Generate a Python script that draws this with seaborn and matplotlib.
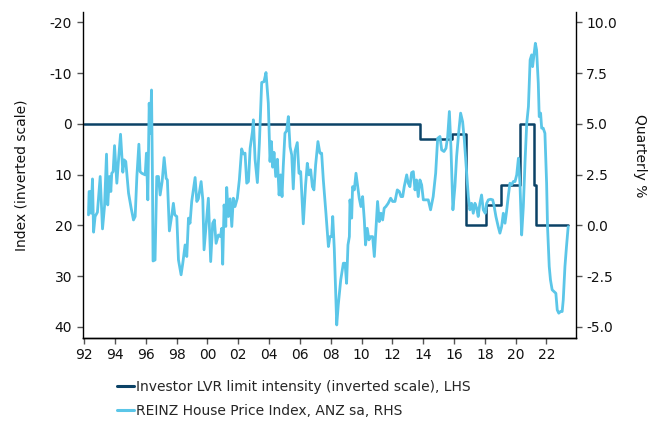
import matplotlib
matplotlib.use("Agg")
import matplotlib.pyplot as plt
import seaborn as sns
import pandas as pd
from matplotlib.ticker import FixedLocator, FuncFormatter

# ---------------- data ----------------
lvr_year = [1992.0, 2013.79, 2015.89, 2016.80, 2018.05, 2019.04, 2020.27, 2021.19, 2021.34, 2023.41]
lvr_value = [0, 3, 2, 20, 16, 12, 0, 12, 20, 20]

hpi_year = [
    1992.28, 1992.32, 1992.43, 1992.45, 1992.54, 1992.61, 1992.71, 1992.86, 1993.04, 1993.19,
    1993.32, 1993.45, 1993.53, 1993.64, 1993.73, 1993.79, 1993.88, 1993.97, 1994.12, 1994.23,
    1994.36, 1994.51, 1994.59, 1994.70, 1994.88, 1995.05, 1995.20, 1995.31, 1995.42, 1995.55,
    1995.63, 1995.74, 1995.96, 1996.04, 1996.13, 1996.22, 1996.30, 1996.37, 1996.43, 1996.47,
    1996.60, 1996.71, 1996.82, 1996.93, 1997.06, 1997.19, 1997.32, 1997.40, 1997.53, 1997.69,
    1997.79, 1997.88, 1998.01, 1998.12, 1998.29, 1998.40, 1998.55, 1998.66, 1998.77, 1998.87,
    1998.98, 1999.20, 1999.31, 1999.41, 1999.59, 1999.70, 1999.78, 1999.96, 2000.06, 2000.21,
    2000.34, 2000.45, 2000.56, 2000.71, 2000.84, 2000.93, 2000.99, 2001.08, 2001.19, 2001.25,
    2001.36, 2001.47, 2001.58, 2001.68, 2001.79, 2001.94, 2002.07, 2002.22, 2002.33, 2002.44,
    2002.55, 2002.66, 2002.77, 2002.92, 2002.98, 2003.09, 2003.24, 2003.37, 2003.52, 2003.67,
    2003.80, 2003.95, 2004.06, 2004.15, 2004.23, 2004.32, 2004.43, 2004.54, 2004.65, 2004.75,
    2004.84, 2004.92, 2005.03, 2005.14, 2005.25, 2005.36, 2005.47, 2005.57, 2005.68, 2005.83,
    2005.94, 2006.05, 2006.22, 2006.37, 2006.48, 2006.59, 2006.70, 2006.81, 2006.91, 2007.02,
    2007.17, 2007.30, 2007.41, 2007.52, 2007.69, 2007.85, 2007.95, 2008.06, 2008.13, 2008.23,
    2008.39, 2008.49, 2008.65, 2008.82, 2008.93, 2009.03, 2009.12, 2009.21, 2009.25, 2009.36,
    2009.42, 2009.53, 2009.64, 2009.75, 2009.85, 2009.96, 2010.07, 2010.18, 2010.26, 2010.37,
    2010.48, 2010.59, 2010.72, 2010.83, 2010.93, 2011.04, 2011.15, 2011.26, 2011.37, 2011.47,
    2011.58, 2011.73, 2011.89, 2012.02, 2012.17, 2012.32, 2012.45, 2012.56, 2012.67, 2012.77,
    2012.93, 2013.03, 2013.14, 2013.25, 2013.36, 2013.47, 2013.57, 2013.68, 2013.79, 2013.90,
    2014.01, 2014.18, 2014.33, 2014.48, 2014.65, 2014.81, 2014.94, 2015.09, 2015.20, 2015.35,
    2015.48, 2015.59, 2015.70, 2015.80, 2015.93, 2016.06, 2016.17, 2016.30, 2016.43, 2016.56,
    2016.67, 2016.82, 2016.93, 2017.03, 2017.14, 2017.25, 2017.36, 2017.47, 2017.57, 2017.68,
    2017.79, 2017.90, 2018.03, 2018.12, 2018.23, 2018.38, 2018.51, 2018.59, 2018.72, 2018.87,
    2018.98, 2019.09, 2019.20, 2019.31, 2019.41, 2019.52, 2019.63, 2019.74, 2019.85, 2019.96,
    2020.07, 2020.18, 2020.28, 2020.39, 2020.50, 2020.61, 2020.72, 2020.83, 2020.94, 2021.04,
    2021.10, 2021.19, 2021.28, 2021.36, 2021.47, 2021.53, 2021.62, 2021.69, 2021.79, 2021.90,
    2022.01, 2022.07, 2022.18, 2022.26, 2022.37, 2022.50, 2022.61, 2022.70, 2022.80, 2022.91,
    2023.02, 2023.09, 2023.20, 2023.30, 2023.41,
]
hpi_value = [
    0.52, 1.67, 1.67, 0.60, 2.29, -0.33, 0.44, 0.65, 2.41, -0.17,
    0.93, 3.51, 1.01, 2.41, 1.67, 2.57, 2.65, 3.93, 2.08, 3.23,
    4.49, 2.62, 3.23, 3.15, 1.59, 0.85, 0.27, 0.44, 2.41, 4.00,
    2.65, 2.57, 2.49, 3.56, 1.26, 6.02, 4.54, 6.67, 2.41, -1.75,
    -1.70, 2.41, 2.41, 1.50, 2.16, 3.34, 2.32, 2.24, -0.27, 0.52,
    1.09, 0.52, 0.44, -1.70, -2.43, -1.86, -0.96, -1.53, 0.36, 0.11,
    1.18, 2.36, 1.18, 1.31, 2.16, 1.26, -1.20, 0.44, 1.34, -1.78,
    0.11, 0.27, -0.88, -0.47, -0.55, -0.14, -1.91, 1.01, -0.05, 1.87,
    0.44, 1.31, -0.05, 1.34, 0.93, 1.34, 2.24, 3.77, 3.52, 3.56,
    2.08, 2.16, 3.80, 4.62, 5.20, 3.26, 2.11, 4.05, 7.04, 7.08,
    7.53, 6.02, 3.15, 4.13, 2.87, 3.60, 2.41, 3.26, 1.50, 2.49,
    1.42, 2.90, 4.54, 4.66, 5.36, 3.88, 3.47, 1.80, 3.64, 4.08,
    2.57, 2.65, 0.08, 2.00, 3.06, 2.49, 2.74, 1.91, 1.75, 2.98,
    4.13, 3.56, 3.56, 2.24, 0.60, -1.04, -0.55, -0.55, 0.44, -1.12,
    -4.90, -3.91, -2.68, -1.86, -1.86, -2.85, -0.96, -0.55, 1.26, 0.36,
    1.91, 1.75, 2.57, 1.91, 1.34, 0.93, 1.42, 0.27, -0.96, -0.14,
    -0.71, -0.55, -0.55, -1.53, -0.22, 1.18, 0.19, 0.60, 0.27, 0.85,
    0.93, 1.09, 1.34, 1.18, 1.18, 1.75, 1.67, 1.42, 1.42, 1.91,
    2.49, 2.08, 1.91, 2.60, 2.65, 1.75, 2.24, 1.42, 2.24, 2.00,
    1.26, 1.26, 1.26, 0.77, 1.42, 2.57, 4.29, 4.38, 3.72, 3.64,
    3.80, 4.38, 5.61, 3.88, 0.77, 1.91, 3.39, 4.54, 5.53, 5.11,
    4.21, 2.57, 1.42, 0.77, 1.09, 0.60, 1.09, 0.85, 0.44, 1.09,
    1.50, 0.77, 0.60, 1.09, 1.26, 1.29, 1.26, 1.01, 0.44, -0.06,
    -0.38, -0.06, 0.60, 0.11, 0.68, 1.42, 2.08, 2.00, 2.16, 2.16,
    2.49, 3.31, 2.08, -0.47, 0.93, 3.15, 5.03, 5.85, 8.15, 8.40,
    7.82, 8.40, 8.97, 8.64, 7.00, 5.36, 5.53, 4.79, 4.79, 4.54,
    2.08, -0.06, -2.02, -2.68, -3.17, -3.26, -3.34, -4.16, -4.32, -4.24,
    -4.24, -3.67, -2.02, -1.04, -0.06,
]

x_ticks = list(range(1992, 2023, 2))
x_labels = [f"{y % 100:02d}" for y in x_ticks]
left_ticks = [-20, -10, 0, 10, 20, 30, 40]
right_ticks = [-5.0, -2.5, 0.0, 2.5, 5.0, 7.5, 10.0]

lvr_label = "Investor LVR limit intensity (inverted scale), LHS"
hpi_label = "REINZ House Price Index, ANZ sa, RHS"

# ---------------- style ----------------
sns.set_theme(style="ticks")
plt.rcParams["font.family"] = ["DejaVu Sans"]
plt.rcParams["axes.edgecolor"] = "#000000"
plt.rcParams["xtick.color"] = "#555555"
plt.rcParams["ytick.color"] = "#555555"
plt.rcParams["xtick.labelcolor"] = "#111111"
plt.rcParams["ytick.labelcolor"] = "#111111"

dark = "#0B4266"
light = "#5BC6E8"

df_lvr = pd.DataFrame({"year": lvr_year, "value": lvr_value})
df_hpi = pd.DataFrame({"year": hpi_year, "value": hpi_value})

fig = plt.figure(figsize=(6.61, 4.21), dpi=100)
ax = fig.add_axes([0.125, 0.198, 0.746, 0.773])
ax2 = ax.twinx()

sns.lineplot(data=df_lvr, x="year", y="value", ax=ax, color=dark, linewidth=1.8,
             drawstyle="steps-post", estimator=None, sort=False, label=lvr_label, legend=False)
sns.lineplot(data=df_hpi, x="year", y="value", ax=ax2, color=light, linewidth=2.0,
             estimator=None, sort=False, label=hpi_label, legend=False)

ax.set_xlim(1991.9, 2023.9)
ax.set_ylim(42.1, -22.0)
ax2.set_ylim(-5.525, 10.5)

ax.xaxis.set_major_locator(FixedLocator(x_ticks))
ax.set_xticklabels(x_labels)
ax.yaxis.set_major_locator(FixedLocator(left_ticks))
ax.set_yticklabels([f"{t:d}" for t in left_ticks])
ax2.yaxis.set_major_locator(FixedLocator(right_ticks))
ax2.yaxis.set_major_formatter(FuncFormatter(lambda v, p: f"{v:.1f}"))

for a in (ax, ax2):
    a.spines["top"].set_visible(False)
    a.tick_params(labelsize=10, length=4, width=1)
    for s in a.spines.values():
        s.set_linewidth(1.0)
ax.spines["right"].set_visible(False)
ax2.spines["left"].set_visible(False)

ax.set_xlabel("")
ax.set_ylabel("Index (inverted scale)", fontsize=10, color="#111111", labelpad=15)
ax2.set_ylabel("Quarterly %", fontsize=10, color="#111111", rotation=270,
               va="center", ha="center")
ax2.yaxis.set_label_coords(1.13, 0.56)

h1, l1 = ax.get_legend_handles_labels()
h2, l2 = ax2.get_legend_handles_labels()
leg = fig.legend(h1 + h2, l1 + l2, loc="upper left", bbox_to_anchor=(117 / 661, 1 - 380 / 421),
                 frameon=False, fontsize=10, handlelength=1.2, handletextpad=0.2,
                 borderpad=0, borderaxespad=0, labelspacing=0.7)
for line in leg.get_lines():
    line.set_linewidth(2.2)

fig.savefig("out.png", dpi=100)
